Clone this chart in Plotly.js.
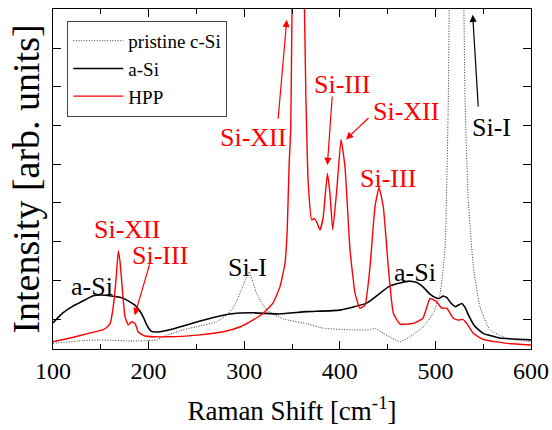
<!DOCTYPE html>
<html>
<head>
<meta charset="utf-8">
<script src="https://cdn.plot.ly/plotly-3.0.1.min.js"></script>
<style>html,body{margin:0;padding:0;background:#fff;}#chart{width:552px;height:430px;}</style>
</head>
<body>
<div id="chart"></div>
<script>
// pristine c-Si (dotted)
const cSiX = [100, 131, 149, 184, 208, 219, 236, 250, 271, 283, 290, 297, 302.6, 305.3, 309.5, 313, 323.5, 341, 365, 383, 411, 432, 437, 445.5, 463, 473.4, 487.3, 497.8, 504.8, 510, 513.5, 521, 531, 534.4, 539.7, 546.6, 557, 574.6, 600];
const cSiY = [0.37, 0.44, 0.46, 0.43, 0.46, 0.58, 0.72, 0.80, 0.93, 1.13, 1.35, 1.75, 2.09, 2.22, 1.92, 1.66, 1.23, 1.00, 0.88, 0.76, 0.72, 0.72, 0.76, 0.63, 0.41, 0.54, 0.80, 1.15, 1.66, 2.78, 6.66, 30, 6.66, 4.07, 2.35, 1.32, 0.72, 0.50, 0.41];

// a-Si (solid black)
const aSiX = [100, 110, 120, 130, 142, 150, 163, 172, 180, 186, 191, 195, 198, 203, 212, 222, 236, 257, 285, 309, 337, 365, 400, 428, 452, 463, 472, 480, 487, 494, 501, 504, 508, 512, 516, 521, 527.5, 531, 535, 541, 550, 567, 600];
const aSiY = [0.90, 1.15, 1.32, 1.45, 1.60, 1.62, 1.59, 1.55, 1.45, 1.35, 1.20, 1.02, 0.85, 0.68, 0.67, 0.72, 0.82, 0.97, 1.13, 1.16, 1.13, 1.19, 1.23, 1.41, 1.85, 1.93, 1.98, 1.95, 1.83, 1.65, 1.54, 1.53, 1.59, 1.55, 1.42, 1.32, 1.40, 1.30, 1.08, 0.82, 0.63, 0.51, 0.46];

// HPP (solid red)
const hppX = [100, 118, 139, 152, 157, 160, 163, 165.6, 168.3, 170, 171.8, 175.3, 178.8, 182.3, 185.8, 189, 196, 219, 254, 278, 296, 309, 320, 330, 337.4, 342.7, 345, 347, 348.6, 355, 364.6, 367, 370.6, 373, 375.8, 379.3, 382.7, 387, 389.7, 392.6, 396.8, 401.3, 405.4, 410.7, 416, 421, 426.4, 431.6, 436.8, 441, 445.5, 450.7, 456, 463, 477, 487, 494.4, 501, 506.6, 511.8, 518.7, 524, 528.6, 532.7, 539.7, 550, 574.6, 600];
const hppY = [0.41, 0.51, 0.64, 0.72, 0.80, 0.90, 1.32, 1.93, 2.76, 2.50, 2.00, 1.06, 0.85, 0.93, 0.89, 0.67, 0.56, 0.54, 0.59, 0.67, 0.80, 0.97, 1.15, 1.41, 1.83, 2.44, 3.30, 5.00, 5.88, 20, 6.66, 4.50, 3.56, 3.60, 3.51, 3.30, 3.64, 4.76, 4.25, 3.30, 4.33, 5.64, 4.94, 2.78, 1.66, 1.28, 1.36, 2.35, 3.90, 4.40, 3.90, 2.35, 1.15, 0.87, 0.89, 1.02, 1.53, 1.45, 1.28, 1.28, 1.02, 0.97, 0.99, 0.89, 0.63, 0.47, 0.37, 0.33];

const seriesNames = ["pristine c-Si", "a-Si", "HPP"];
const xTickVals = [100, 200, 300, 400, 500, 600];

// peak labels: [text, x, y, color]
const labels = [
  ["a-Si", 140.3, 1.85, "black"],
  ["Si-XII", 177.9, 3.30, "red"],
  ["Si-III", 211.4, 2.63, "red"],
  ["Si-I", 303.5, 2.32, "black"],
  ["Si-XII", 308.7, 5.70, "red"],
  ["Si-III", 402.8, 7.07, "red"],
  ["Si-XII", 469.2, 6.35, "red"],
  ["Si-III", 449.9, 4.63, "red"],
  ["a-Si", 478.7, 2.20, "black"],
  ["Si-I", 558.2, 5.96, "black"]
];
// arrows: [tailX, tailY, headX, headY, color]
const arrows = [
  [201.5, 2.45, 185.5, 1.10, "red"],
  [335.4, 6.14, 344.5, 8.73, "red"],
  [392.2, 6.79, 387.0, 4.98, "red"],
  [431.6, 6.23, 406.5, 5.64, "red"],
  [544.9, 6.45, 539.0, 8.86, "black"]
];

const FONT = "Liberation Serif";

const traces = [
  {x: cSiX, y: cSiY, name: seriesNames[0], type: "scatter", mode: "lines",
   line: {color: "#333", width: 1, dash: "1px,1.6px", shape: "spline", smoothing: 0.4}},
  {x: aSiX, y: aSiY, name: seriesNames[1], type: "scatter", mode: "lines",
   line: {color: "black", width: 1.6, shape: "spline", smoothing: 0.4}},
  {x: hppX, y: hppY, name: seriesNames[2], type: "scatter", mode: "lines",
   line: {color: "red", width: 1.4, shape: "spline", smoothing: 0.4}}
];

const annotations = [];
labels.forEach(l => annotations.push({
  x: l[1], y: l[2], xref: "x", yref: "y", text: l[0], showarrow: false,
  font: {family: FONT, size: 26, color: l[3]}, xanchor: "center", yanchor: "middle"
}));
arrows.forEach(a => annotations.push({
  x: a[2], y: a[3], ax: a[0], ay: a[1], xref: "x", yref: "y", axref: "x", ayref: "y",
  text: "", showarrow: true, arrowhead: 2, arrowsize: 1.2, arrowwidth: 1.2, arrowcolor: a[4], standoff: 0
}));

const layout = {
  width: 552, height: 430,
  margin: {l: 53, r: 21, t: 9, b: 81},
  paper_bgcolor: "white", plot_bgcolor: "white",
  font: {family: FONT, color: "black"},
  showlegend: true,
  legend: {x: 0.03, y: 0.965, xanchor: "left", yanchor: "top",
    bgcolor: "white", bordercolor: "#444", borderwidth: 1,
    font: {family: FONT, size: 19, color: "black"}, itemwidth: 50, tracegroupgap: 0},
  xaxis: {
    range: [100, 600], tickvals: xTickVals, ticktext: xTickVals.map(String),
    ticks: "inside", ticklen: 8, tickwidth: 1, tickcolor: "black",
    minor: {dtick: 50, tick0: 0, ticks: "inside", ticklen: 5, tickwidth: 1, tickcolor: "black"},
    showline: true, linecolor: "black", linewidth: 1, mirror: "ticks",
    showgrid: false, zeroline: false,
    tickfont: {family: FONT, size: 24, color: "black"}, ticklabelstandoff: 0,
    title: {text: "Raman Shift [cm<sup>-1</sup>]", font: {family: FONT, size: 27, color: "black"}, standoff: 18}
  },
  yaxis: {
    range: [0.225, 9.01], dtick: 1, tick0: 0,
    ticks: "inside", ticklen: 8, tickwidth: 1, tickcolor: "black",
    showticklabels: false,
    showline: true, linecolor: "black", linewidth: 1, mirror: "ticks",
    showgrid: false, zeroline: false,
    title: {text: "Intensity [arb. units]", font: {family: FONT, size: 38, color: "black"}, standoff: 0}
  },
  annotations: annotations
};

Plotly.newPlot("chart", traces, layout, {displayModeBar: false, staticPlot: true});
</script>
</body>
</html>
